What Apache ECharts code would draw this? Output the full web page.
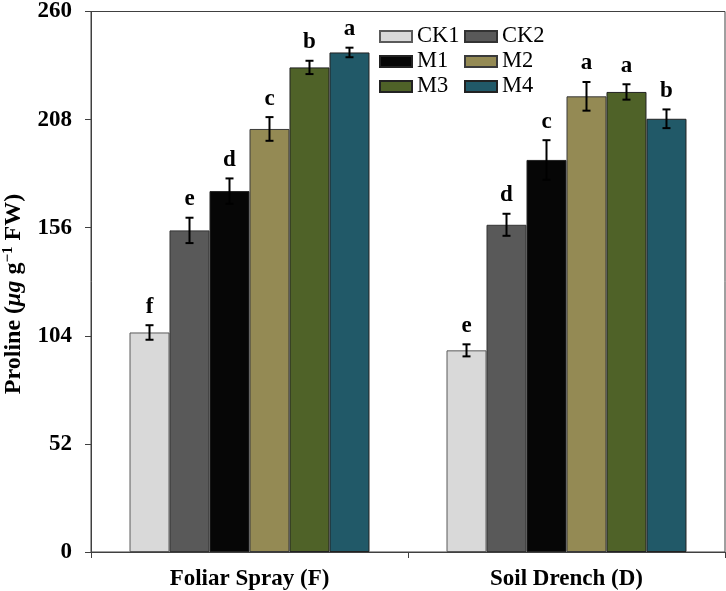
<!DOCTYPE html>
<html>
<head>
<meta charset="utf-8">
<script src="https://cdn.jsdelivr.net/npm/echarts@6/dist/echarts.min.js"></script>
<style>html,body{margin:0;padding:0;background:#fff}#c{width:726px;height:591px}</style>
</head>
<body>
<div id="c"></div>
<script>
// ---- data ----
const categories = ['Foliar Spray (F)', 'Soil Drench (D)'];
const seriesNames = ['CK1', 'CK2', 'M1', 'M2', 'M3', 'M4'];
const yTicks = [0, 52, 104, 156, 208, 260];
const CK1 = [105.6, 97.0];
const CK2 = [154.7, 157.4];
const M1 = [173.6, 188.6];
const M2 = [203.5, 219.2];
const M3 = [233.1, 221.3];
const M4 = [240.3, 208.4];
const CK1_err = [3.5, 2.9];
const CK2_err = [6.1, 5.3];
const M1_err = [6.1, 9.5];
const M2_err = [5.7, 6.9];
const M3_err = [3.2, 3.7];
const M4_err = [2.3, 4.5];
const CK1_sig = ['f', 'e'];
const CK2_sig = ['e', 'd'];
const M1_sig = ['d', 'c'];
const M2_sig = ['c', 'a'];
const M3_sig = ['b', 'a'];
const M4_sig = ['a', 'b'];

const means = [CK1, CK2, M1, M2, M3, M4];
const errs = [CK1_err, CK2_err, M1_err, M2_err, M3_err, M4_err];
const sigs = [CK1_sig, CK2_sig, M1_sig, M2_sig, M3_sig, M4_sig];

const fills = ['#d9d9d9', '#595959', '#060606', '#948a54', '#4f6228', '#215968'];
const borders = ['#5a5a5a', '#333333', '#222222', '#3a3a3a', '#222222', '#222222'];
const FONT = 'Liberation Serif';
const CAT_GAP = 0.243;

const chart = echarts.init(document.getElementById('c'), null, {renderer: 'canvas'});

const barSeries = seriesNames.map((n, i) => ({
  name: n,
  type: 'bar',
  data: means[i],
  barGap: '0%',
  barCategoryGap: (CAT_GAP * 100) + '%',
  itemStyle: {color: fills[i], borderColor: borders[i], borderWidth: 1},
  emphasis: {disabled: true},
  z: 2
}));

const errData = [];
seriesNames.forEach((n, s) => {
  categories.forEach((c, ci) => {
    errData.push([ci, s, means[s][ci], errs[s][ci]]);
  });
});

const errSeries = {
  type: 'custom',
  data: errData,
  z: 5,
  silent: true,
  encode: {x: 0, y: 2},
  renderItem: function (params, api) {
    const ci = api.value(0), s = api.value(1), m = api.value(2), e = api.value(3);
    const bandW = api.size([1, 0])[0];
    const barW = bandW * (1 - CAT_GAP) / seriesNames.length;
    const cx = api.coord([ci, 0])[0] + (s - (seriesNames.length - 1) / 2) * barW;
    const yt = api.coord([ci, m + e])[1];
    const yb = api.coord([ci, m - e])[1];
    const cap = 4;
    const ls = {stroke: '#000', lineWidth: 2};
    return {
      type: 'group',
      children: [
        {type: 'line', shape: {x1: cx, y1: yt, x2: cx, y2: yb}, style: ls},
        {type: 'line', shape: {x1: cx - cap, y1: yt, x2: cx + cap, y2: yt}, style: ls},
        {type: 'line', shape: {x1: cx - cap, y1: yb, x2: cx + cap, y2: yb}, style: ls},
        {type: 'text', x: cx, y: yt - 7, style: {
          text: sigs[s][ci], font: 'bold 23px ' + FONT, fill: '#000',
          align: 'center', verticalAlign: 'bottom'
        }}
      ]
    };
  }
};

const legendCommon = {
  orient: 'vertical',
  top: 24,
  padding: 0,
  itemWidth: 32,
  itemHeight: 11,
  itemGap: 0,
  icon: 'rect',
  selectedMode: false,
  textStyle: {fontFamily: FONT, fontSize: 22.5, color: '#000', lineHeight: 25}
};

const option = {
  backgroundColor: '#fff',
  animation: false,
  grid: {left: 91, right: 1, top: 8, bottom: 39, show: true, borderColor: '#404040', borderWidth: 1},
  legend: [
    Object.assign({}, legendCommon, {left: 379, data: ['CK1', 'M1', 'M3']}),
    Object.assign({}, legendCommon, {left: 464, data: ['CK2', 'M2', 'M4']})
  ],
  xAxis: {
    type: 'category',
    data: categories,
    axisLine: {lineStyle: {color: '#404040', width: 1}},
    axisTick: {show: true, length: 6, lineStyle: {color: '#404040'}},
    axisLabel: {fontFamily: FONT, fontWeight: 'bold', fontSize: 23, color: '#000', margin: 16}
  },
  yAxis: {
    type: 'value',
    min: yTicks[0],
    max: yTicks[yTicks.length - 1],
    interval: yTicks[1] - yTicks[0],
    splitLine: {show: false},
    axisLine: {show: true, lineStyle: {color: '#404040', width: 1}},
    axisTick: {show: true, length: 6, lineStyle: {color: '#404040'}},
    axisLabel: {fontFamily: FONT, fontWeight: 'bold', fontSize: 23, color: '#000', margin: 19}
  },
  graphic: [{
    type: 'text',
    x: 14,
    y: 294,
    rotation: Math.PI / 2,
    style: {
      text: '{b|Proline (}{i|μg}{b| g}{s|−1}{b| FW)}',
      align: 'center',
      verticalAlign: 'middle',
      rich: {
        b: {font: 'bold 24px ' + FONT, fill: '#000'},
        i: {font: 'italic bold 24px ' + FONT, fill: '#000'},
        s: {font: 'bold 15px ' + FONT, fill: '#000', padding: [0, 0, 11, 0]}
      }
    }
  }],
  series: barSeries.concat([errSeries])
};
chart.setOption(option);
</script>
</body>
</html>
